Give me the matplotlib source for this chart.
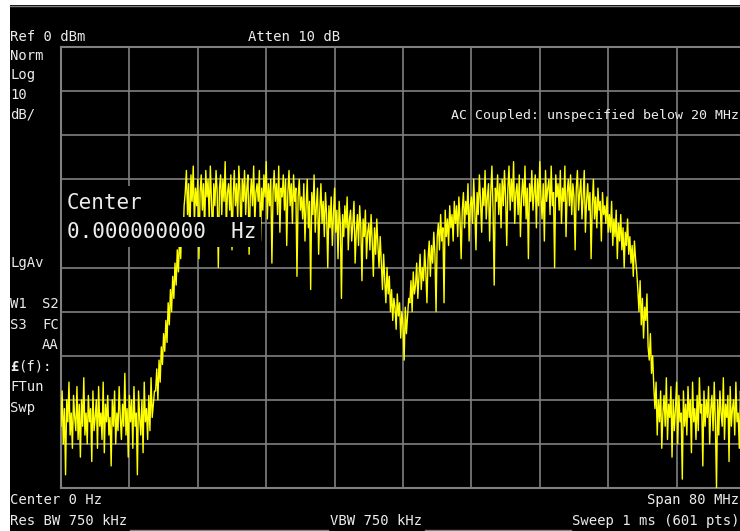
import matplotlib
matplotlib.use('Agg')

from matplotlib import pyplot as plt
from matplotlib.patches import Rectangle
from matplotlib.lines import Line2D
import numpy as np

W, H = 740, 531

# sweep: 601 points over 80 MHz span, centre 0 Hz, ref 0 dBm, 10 dB/div
span_mhz = 80
n_points = 601
ref_dbm = 0
db_per_div = 10

# trace values in dBm
floor_left = [
    -86, -78, -90, -82, -97, -80, -85, -76, -88, -83, -91, -79, -84, -87, -77, -89, -81, -93, -80, -86,
    -75, -88, -83, -90, -79, -85, -82, -94, -78, -87, -84, -80, -91, -77, -86, -83, -89, -76, -92, -81,
    -85, -79, -88, -84, -95, -80, -86, -78, -90, -83, -87, -77, -84, -89, -81, -86, -74, -88, -82, -93,
    -79, -85, -80, -91, -77, -86, -83, -97, -78, -84, -88, -80, -92, -76, -85, -82, -89, -79, -87, -75,
    -84, -81, -78]
rise_left = [
    -78, -73, -80, -71, -76, -68, -72, -65, -69, -62, -67, -58, -63, -55, -60, -52, -57, -49, -54, -46,
    -51, -43, -48, -39, -45, -36]
plateau_left = [
    -33, -28, -38, -31, -45, -29, -35, -27, -40, -32, -36, -30, -48, -33, -29, -37, -31, -42, -28, -34,
    -30, -39, -27, -35, -44, -31, -36, -28, -33, -50, -32, -29, -38, -30, -35, -26, -41, -33, -31, -37,
    -29, -46, -34, -28, -36, -31, -39, -27, -33, -43, -30, -35, -28, -38, -32, -29, -47, -34, -30, -36,
    -27, -40, -33, -31, -35, -28, -44, -32, -37, -29, -34, -26, -39, -31, -36, -30, -49, -33, -28, -35,
    -31, -38, -27, -42, -32, -34, -29, -37, -30, -45, -33, -28, -36, -31, -40, -29, -35, -32, -52, -34,
    -30, -37]
slope_down = [
    -34, -39, -31, -44, -36, -30, -41, -35, -55, -33, -38, -29, -42, -36, -32, -47, -37, -31, -40, -35,
    -43, -33, -38, -50, -36, -41, -34, -45, -38, -32, -42, -37, -48, -35, -40, -57, -38, -43, -36, -41,
    -34, -46, -39, -37, -44, -40, -35, -49, -42, -38, -45, -36, -41, -53, -39, -43, -37, -48, -42, -40,
    -46, -38, -44, -52, -41, -47, -39, -45, -50, -43]
notch = [
    -49, -55, -47, -53, -58, -50, -56, -52, -60, -55, -62, -57, -59, -64, -56, -61, -58, -66, -60, -63,
    -71, -59, -65, -61, -57]
slope_up = [
    -58, -53, -60, -51, -56, -54, -49, -57, -52, -47, -55, -50, -53, -46, -51, -58, -48, -44, -52, -45,
    -49, -42, -47, -60, -43, -40, -46, -38, -44, -41, -58, -37, -43, -39, -45, -36, -41, -38, -44, -35]
plateau_right = [
    -40, -36, -43, -34, -39, -48, -37, -33, -41, -35, -38, -31, -44, -36, -34, -40, -30, -37, -46, -33,
    -38, -29, -35, -42, -32, -36, -28, -39, -34, -31, -44, -33, -27, -37, -54, -32, -35, -29, -38, -31,
    -41, -30, -36, -28, -34, -45, -32, -27, -37, -30, -35, -26, -40, -33, -31, -38, -29, -43, -34, -30,
    -36, -27, -39, -32, -48, -31, -35, -28, -37, -33, -29, -41, -30, -36, -26, -34, -39, -31, -44, -28,
    -35, -32, -30, -38, -27, -36, -33, -50, -29, -34, -31, -37, -28, -40, -32, -35, -27, -43, -33, -30,
    -36, -29, -38, -31, -34, -46, -32, -28, -37, -33, -30, -39, -34, -28, -42, -35, -31, -37, -33, -48,
    -36, -30, -39, -34, -41, -32, -37, -35, -44, -33, -38, -36, -40, -34, -42]
shoulder = [
    -38, -42, -35, -45, -39, -43, -37, -48, -40, -44, -38, -46, -41, -50, -42, -45, -39, -47, -43, -49,
    -45, -52, -44, -48, -51]
fall = [-55, -60, -53, -63, -57, -66, -59, -62, -56, -68, -71, -65, -74, -70, -77]
floor_right = [
    -82, -76, -88, -80, -85, -78, -91, -83, -79, -86, -75, -89, -81, -84, -77, -93, -80, -87, -82, -76,
    -90, -79, -85, -83, -98, -78, -86, -81, -88, -77, -84, -80, -92, -76, -85, -82, -89, -79, -87, -75,
    -83, -81, -95, -78, -86, -80, -84, -77, -90, -82, -79, -87, -76, -85, -100, -80, -88, -78, -83, -86,
    -75, -89, -81, -84, -79, -94, -77, -86, -82, -80, -88, -76, -85, -83, -91, -78, -84, -81, -87, -79]

trace = np.array(floor_left + rise_left + plateau_left + slope_down + notch +
                 slope_up + plateau_right + shoulder + fall + floor_right, dtype=float)
freqs = np.linspace(-span_mhz / 2, span_mhz / 2, n_points)

TXT = '#ececec'
GRID = '#808080'
MONO = 'DejaVu Sans Mono'


def fx(x):
    return x / W


def fy(y):
    return 1 - y / H


fig = plt.figure(figsize=(W / 100, H / 100), dpi=100, facecolor='black')

# white frame strips on top / left like the screen grab
fig.patches.append(Rectangle((0, fy(5)), 1, 5 / H, transform=fig.transFigure,
                             facecolor='white', edgecolor='none', zorder=0))
fig.patches.append(Rectangle((0, 0), fx(10), 1, transform=fig.transFigure,
                             facecolor='white', edgecolor='none', zorder=0))
fig.lines.append(Line2D([fx(10), 1], [fy(5.5), fy(5.5)], transform=fig.transFigure,
                        color=GRID, lw=1))

# graticule: 10 x 10 divisions, right edge falls just off the screen
ax = fig.add_axes([fx(61), fy(488), 684 / W, 441 / H])
ax.set_facecolor('black')
ax.set_xlim(-span_mhz / 2, span_mhz / 2)
ax.set_ylim(ref_dbm - 10 * db_per_div, ref_dbm)
ax.set_xticks(np.linspace(-span_mhz / 2, span_mhz / 2, 11))
ax.set_yticks(np.linspace(ref_dbm - 10 * db_per_div, ref_dbm, 11))
ax.tick_params(length=0, labelbottom=False, labelleft=False)
ax.grid(True, color=GRID, lw=1.2)
ax.set_axisbelow(True)
for s in ax.spines.values():
    s.set_color(GRID)
    s.set_linewidth(1.5)

ax.plot(freqs, trace, color='#ffff00', lw=1.0, zorder=3)


def label(x, y, s, ha='left', size=10, **kw):
    fig.text(fx(x), fy(y), s, ha=ha, va='center', color=TXT, family=MONO,
             fontsize=size, zorder=5, **kw)


label(10, 37, 'Ref 0 dBm')
label(248, 37, 'Atten 10 dB')
for yy, s in zip([56, 75, 95, 114], ['Norm', 'Log', '10', 'dB/']):
    label(10, yy, s)
label(739, 115, 'AC Coupled: unspecified below 20 MHz', ha='right', size=9.5)

label(10, 263, 'LgAv')
label(10, 304, 'W1')
label(59, 304, 'S2', ha='right')
label(10, 325, 'S3')
label(59, 325, 'FC', ha='right')
label(59, 345, 'AA', ha='right')
label(10, 367, '£', weight='bold')
label(18, 367, '(f):')
label(10, 387, 'FTun')
label(10, 408, 'Swp')

# centre frequency entry box
fig.patches.append(Rectangle((fx(62), fy(217)), 121 / W, 31 / H, transform=fig.transFigure,
                             facecolor='black', edgecolor='none', zorder=4))
fig.patches.append(Rectangle((fx(62), fy(247)), 199 / W, 30 / H, transform=fig.transFigure,
                             facecolor='black', edgecolor='none', zorder=4))
label(67, 203, 'Center', size=15)
label(67, 232, '0.000000000  Hz', size=15)

label(10, 500, 'Center 0 Hz')
label(739, 500, 'Span 80 MHz', ha='right')
label(10, 521, 'Res BW 750 kHz')
label(330, 521, 'VBW 750 kHz')
label(739, 521, 'Sweep 1 ms (601 pts)', ha='right')
for x0, x1 in [(130, 328), (425, 571)]:
    fig.lines.append(Line2D([fx(x0), fx(x1)], [fy(529.5), fy(529.5)],
                            transform=fig.transFigure, color=GRID, lw=1))

fig.savefig('out.png', dpi=100, facecolor='black')
